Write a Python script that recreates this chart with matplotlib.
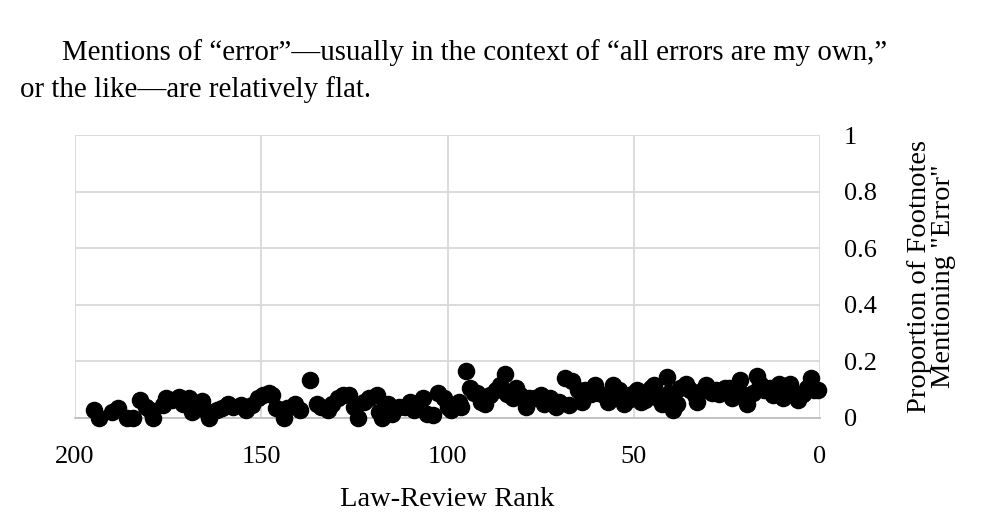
import numpy as np
import matplotlib.pyplot as plt

plt.rcParams['font.family'] = ['Liberation Serif', 'DejaVu Serif']

# law-review rank and share of footnotes mentioning "error"
rank = [195, 193.5, 190, 188.5, 186, 184.5, 182.5, 181, 180, 179,
        176.5, 175.5, 174, 172, 171, 169.5, 168.5, 167, 166, 165,
        164, 162, 160.5, 159, 157.5, 155.5, 154, 152.5, 151, 149.5,
        148, 147, 146, 144, 143, 141, 139.5, 137, 135, 134,
        132, 131, 129.5, 128, 126.5, 125, 124, 122.5, 121, 119,
        118.5, 117.5, 116, 115, 113, 111.5, 110, 109, 108, 106.5,
        105.5, 104, 102.5, 101, 100, 99, 97, 96.5, 95, 94,
        93, 92, 91, 90, 88.5, 87, 86, 84.5, 84, 82.5,
        81.5, 80.5, 79, 78, 76.5, 75, 74, 72.5, 71, 70,
        68.5, 67.5, 66.5, 65, 64, 63, 61.5, 60.5, 59.5, 58,
        57, 55.5, 54, 53.5, 52.5, 51.5, 50.5, 49, 48, 47,
        45.5, 44.5, 43.5, 42.5, 41, 40.5, 39.5, 38.5, 37.5, 36,
        35, 33.5, 33, 31.5, 30.5, 29, 28, 27, 25.5, 24.5,
        23.5, 22.5, 21.5, 20.5, 19.5, 18, 17, 16, 15, 13.5,
        12.5, 11, 10, 9, 8, 7, 6, 4.5, 3.5, 2.5,
        1.5, 0.5]
share = [0.03, 0.0, 0.02, 0.035, 0.0, 0.0, 0.065, 0.04, 0.03, 0.0,
         0.045, 0.07, 0.065, 0.075, 0.05, 0.07, 0.02, 0.045, 0.06, 0.03,
         0.0, 0.03, 0.035, 0.05, 0.04, 0.045, 0.03, 0.045, 0.07, 0.08,
         0.09, 0.08, 0.035, 0.0, 0.035, 0.05, 0.03, 0.135, 0.05, 0.04,
         0.03, 0.05, 0.07, 0.08, 0.08, 0.04, 0.0, 0.055, 0.07, 0.08,
         0.02, 0.0, 0.05, 0.015, 0.04, 0.04, 0.055, 0.03, 0.04, 0.07,
         0.015, 0.01, 0.09, 0.07, 0.04, 0.03, 0.055, 0.04, 0.165, 0.105,
         0.09, 0.09, 0.055, 0.05, 0.08, 0.1, 0.115, 0.155, 0.085, 0.07,
         0.105, 0.08, 0.04, 0.07, 0.07, 0.08, 0.05, 0.07, 0.04, 0.055,
         0.14, 0.045, 0.13, 0.1, 0.055, 0.1, 0.085, 0.115, 0.09, 0.08,
         0.055, 0.115, 0.1, 0.07, 0.05, 0.065, 0.085, 0.1, 0.055, 0.065,
         0.105, 0.115, 0.07, 0.05, 0.145, 0.09, 0.03, 0.05, 0.105, 0.12,
         0.1, 0.08, 0.055, 0.1, 0.115, 0.09, 0.1, 0.085, 0.105, 0.105,
         0.07, 0.1, 0.135, 0.08, 0.05, 0.09, 0.15, 0.12, 0.1, 0.105,
         0.08, 0.12, 0.07, 0.09, 0.12, 0.09, 0.065, 0.085, 0.105, 0.14,
         0.1, 0.1]

xticks = [200, 150, 100, 50, 0]
yticks = [0, 0.2, 0.4, 0.6, 0.8, 1]

fig = plt.figure(figsize=(10.08, 5.30), dpi=100)
ax = fig.add_axes([75/1008, 1-418/530, 745/1008, 283/530])

ax.scatter(rank, share, s=135, color='black', zorder=3, clip_on=False)

ax.set_xlim(200, 0)
ax.set_ylim(0, 1)
ax.set_xticks(xticks)
ax.set_xticklabels([str(t) for t in xticks])
ax.set_yticks(yticks)
ax.set_yticklabels(['0', '0.2', '0.4', '0.6', '0.8', '1'])
ax.yaxis.tick_right()
ax.yaxis.set_label_position('right')
ax.tick_params(axis='both', length=0, labelsize=19)
ax.tick_params(axis='x', pad=20)
ax.tick_params(axis='y', pad=17)
for lbl in ax.get_yticklabels():
    lbl.set_horizontalalignment('left')

ax.grid(True, color='#d9d9d9', linewidth=1.3)
ax.set_axisbelow(True)
for side in ['top', 'left', 'right']:
    ax.spines[side].set_visible(False)
ax.spines['bottom'].set_color('#bfbfbf')
ax.spines['bottom'].set_linewidth(1.3)

ax.set_xlabel('Law-Review Rank', fontsize=20.5, labelpad=14)
ax.set_ylabel('Proportion of Footnotes\nMentioning "Error"', fontsize=20.5,
              labelpad=22, linespacing=0.95)

fig.text(62/1008, 1-60/530,
         'Mentions of \u201cerror\u201d\u2014usually in the context of \u201call errors are my own,\u201d',
         fontsize=20.8, ha='left', va='baseline')
fig.text(20/1008, 1-97/530,
         'or the like\u2014are relatively flat.',
         fontsize=20.8, ha='left', va='baseline')

fig.savefig('out.png', dpi=100)
